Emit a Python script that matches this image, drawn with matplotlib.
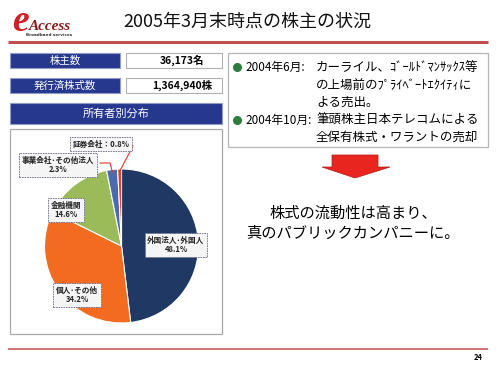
import matplotlib
matplotlib.use('Agg')
import matplotlib.pyplot as plt
from matplotlib.patches import Rectangle, Polygon
import numpy as np

plt.rcParams['font.family'] = ['Noto Sans CJK JP', 'DejaVu Sans']

# data
title = '2005年3月末時点の株主の状況'
info_labels = ['株主数', '発行済株式数']
info_values = ['36,173名', '1,364,940株']
pie_title = '所有者別分布'
owners = ['外国法人･外国人', '個人･その他', '金融機関', '事業会社･その他法人', '証券会社']
shares = [48.1, 34.2, 14.6, 2.3, 0.8]
colors = ['#1F3864', '#F26B21', '#9BBB59', '#4A6CAE', '#E8342B']
events = [
    ('2004年6月:', ['カーライル、ｺﾞｰﾙﾄﾞﾏﾝｻｯｸｽ等', 'の上場前のﾌﾟﾗｲﾍﾞｰﾄｴｸｲﾃｨに', 'よる売出。']),
    ('2004年10月:', ['筆頭株主日本テレコムによる', '全保有株式・ワラントの売却']),
]
message = ['株式の流動性は高まり、', '真のパブリックカンパニーに。']
page_no = '24'

W, H = 497, 367
fig = plt.figure(figsize=(W / 100, H / 100), dpi=100)


def pixel_axes(z):
    a = fig.add_axes([0, 0, 1, 1], zorder=z)
    a.set_xlim(0, W)
    a.set_ylim(H, 0)
    a.axis('off')
    a.patch.set_alpha(0)
    return a


bg = pixel_axes(0)

# logo
bg.text(12, 31, 'e', color='#D11F26', fontsize=27, family='Liberation Serif',
        style='italic', weight='bold', va='baseline')
bg.text(29, 30, 'Access', color='#8B1A1A', fontsize=11, family='Liberation Serif',
        style='italic', weight='bold', va='baseline')
bg.text(49, 35, 'Broadband services', color='#333333', fontsize=3.0,
        family='DejaVu Sans', weight='bold', va='center', ha='center')

# title + red lines
bg.text(247, 22, title, fontsize=13, ha='center', va='center', color='#111111')
bg.plot([8, 488], [42, 42], color='#C0504D', lw=2.2, solid_capstyle='butt')
bg.plot([8, 488], [349, 349], color='#C0504D', lw=1.1, solid_capstyle='butt')
bg.text(478, 358, page_no, fontsize=5.5, weight='bold', ha='center', va='center')

# info boxes
for i, (lab, val) in enumerate(zip(info_labels, info_values)):
    y0 = 53 + i * 25
    bg.add_patch(Rectangle((10, y0), 110, 15, facecolor='#26388E', edgecolor='#8F9BC8', lw=0.8))
    bg.text(65, y0 + 7.5, lab, color='white', fontsize=7.5, ha='center', va='center')
    bg.add_patch(Rectangle((127, y0 + 1), 96, 15, facecolor='#9A9A9A', edgecolor='none'))
    bg.add_patch(Rectangle((126, y0), 96, 15, facecolor='white', edgecolor='#B0B0B0', lw=0.8))
    bg.text(182, y0 + 7.5, val, fontsize=7.5, ha='center', va='center', weight='bold')

bg.add_patch(Rectangle((10, 103), 212, 21, facecolor='#26388E', edgecolor='#8F9BC8', lw=0.8))
bg.text(116, 113.5, pie_title, color='white', fontsize=8, ha='center', va='center')
bg.add_patch(Rectangle((10, 129), 212, 205, facecolor='white', edgecolor='#A8A8A8', lw=0.9))

# right text box
bg.add_patch(Rectangle((228, 53), 260, 94, facecolor='white', edgecolor='#B5B5B5', lw=0.9))
ys = [67, 85, 102, 120, 137]
k = 0
for date, lines in events:
    bg.plot(237, ys[k], 'o', color='#2E7D3E', ms=5.5)
    bg.text(245, ys[k], date, fontsize=8.5, va='center')
    for ln in lines:
        bg.text(316, ys[k], ln, fontsize=9, va='center')
        k += 1

# arrow
bg.add_patch(Polygon([(332, 155), (378, 155), (378, 167), (390, 167), (355, 178),
                      (322, 167), (332, 167)], closed=True,
                     facecolor='#E8251F', edgecolor='#B01A15', lw=0.5))

bg.text(353, 213, message[0], fontsize=11, ha='center', va='center')
bg.text(353, 233, message[1], fontsize=11, ha='center', va='center')

# pie
cx, cy, r = 121.5, 246, 77
half = 80
pax = fig.add_axes([(cx - half) / W, 1 - (cy + half) / H, 2 * half / W, 2 * half / H], zorder=1)
lim = half / r
pax.axis('off')
wedges, _ = pax.pie(shares, colors=colors, startangle=90, counterclock=False,
                    wedgeprops=dict(edgecolor='white', linewidth=0.8), radius=1)
pax.set_xlim(-lim, lim)
pax.set_ylim(-lim, lim)

# labels on top of the pie
top = pixel_axes(2)
label_pos = [(176, 245), (77, 295), (66, 210), (58, 165), (101, 144)]
for i, (name, val) in enumerate(zip(owners, shares)):
    x, y = label_pos[i]
    txt = f'{name}：{val}%' if i == 4 else f'{name}\n{val}%'
    top.text(x, y, txt, fontsize=5.5, weight='bold', ha='center', va='center', linespacing=1.1,
             color='#222222',
             bbox=dict(boxstyle='square,pad=0.35', facecolor='#F5F5F5',
                       edgecolor='#6A6A8A', lw=0.6, linestyle=(0, (2, 1))), zorder=5)

# leader lines for the two thin slices
for i, path in [(4, [(133, 146)]), (3, [(100, 163), (110, 163)])]:
    w = wedges[i]
    mid = np.deg2rad((w.theta1 + w.theta2) / 2)
    ex, ey = cx + 0.97 * r * np.cos(mid), cy - 0.97 * r * np.sin(mid)
    xs = [p[0] for p in path] + [ex]
    yv = [p[1] for p in path] + [ey]
    top.plot(xs, yv, color='#E8342B', lw=0.8, zorder=4)

fig.savefig('out.png', dpi=100)
